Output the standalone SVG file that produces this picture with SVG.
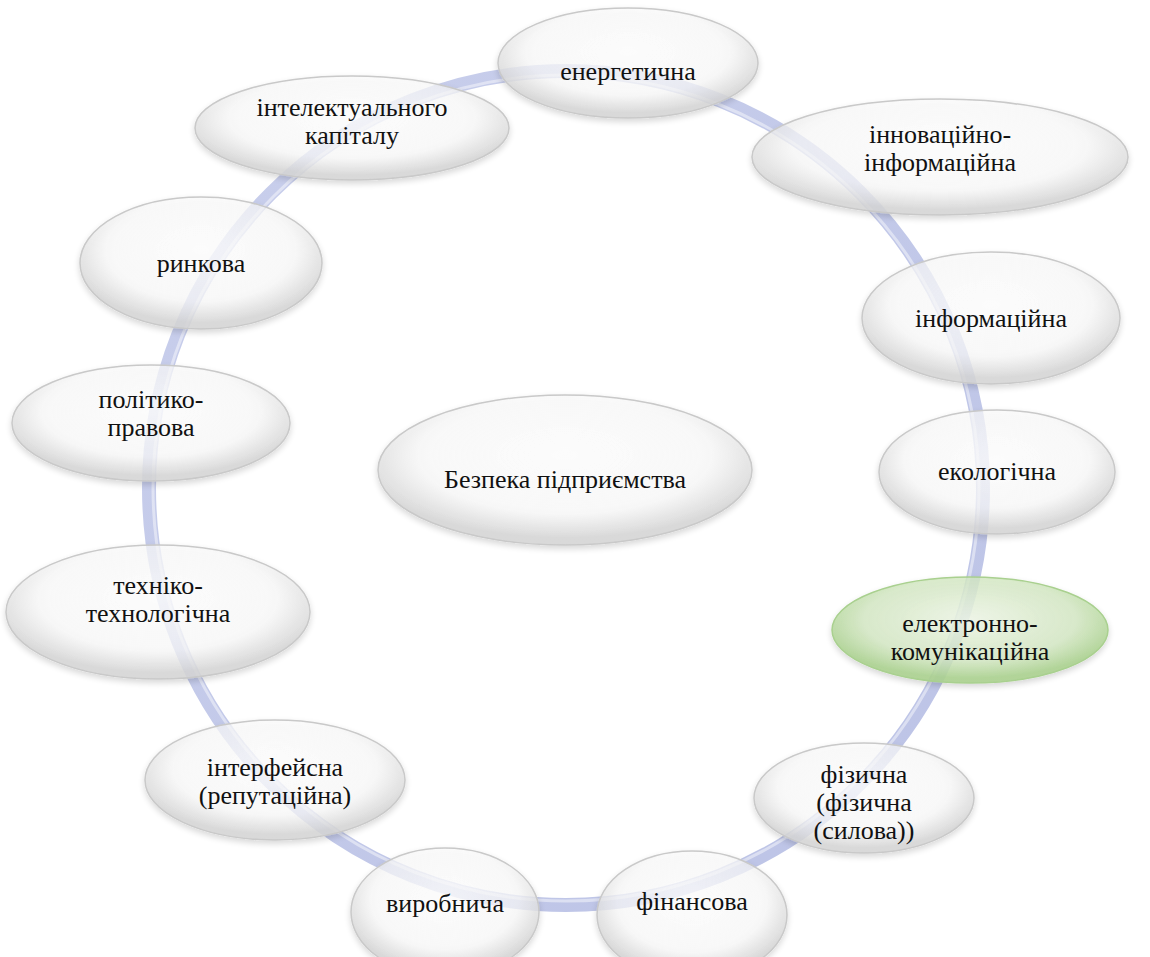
<svg xmlns="http://www.w3.org/2000/svg" width="1150" height="957" viewBox="0 0 1150 957" font-family="Liberation Serif, DejaVu Serif, Times New Roman, serif">
  <defs>
    <radialGradient id="gWhite" cx="50%" cy="40%" r="55%">
      <stop offset="0" stop-color="#ffffff" stop-opacity="0.8"/>
      <stop offset="0.7" stop-color="#fbfbfb" stop-opacity="0.7"/>
      <stop offset="1" stop-color="#d6d6d6" stop-opacity="0.85"/>
    </radialGradient>
    <radialGradient id="gGreen" cx="50%" cy="40%" r="55%">
      <stop offset="0" stop-color="#eef6e6" stop-opacity="0.85"/>
      <stop offset="0.7" stop-color="#d3e8c2" stop-opacity="0.8"/>
      <stop offset="1" stop-color="#acd291" stop-opacity="0.9"/>
    </radialGradient>
    <linearGradient id="gRing" x1="0" y1="0" x2="1" y2="1">
      <stop offset="0" stop-color="#c9cfec"/>
      <stop offset="1" stop-color="#bcc3e6"/>
    </linearGradient>
    <filter id="soft" x="-10%" y="-10%" width="120%" height="130%">
      <feGaussianBlur in="SourceAlpha" stdDeviation="3"/>
      <feOffset dy="3"/>
      <feComponentTransfer><feFuncA type="linear" slope="0.18"/></feComponentTransfer>
      <feMerge><feMergeNode/><feMergeNode in="SourceGraphic"/></feMerge>
    </filter>
  </defs>
  <style>
    .node { fill: url(#gWhite); stroke: #c9c9c9; stroke-width: 1.5; filter: url(#soft); }
    .hl { fill: url(#gGreen); stroke: #a9d08f; stroke-width: 1.5; filter: url(#soft); }
    .t { font-size: 26px; fill: #111; text-anchor: middle; }
  </style>

  <rect width="1150" height="957" fill="#ffffff"/>

  <!-- ring joining the components -->
  <g id="connectors">
    <circle cx="566" cy="488" r="417" fill="none" stroke="url(#gRing)" stroke-width="14"/>
    <circle cx="566" cy="488" r="413" fill="none" stroke="#ffffff" stroke-opacity="0.45" stroke-width="3"/>
  </g>

  <g id="n-energy">
    <ellipse class="node" cx="628" cy="63" rx="130" ry="55"/>
    <text class="t" x="628" y="80">енергетична</text>
  </g>
  <g id="n-intellect">
    <ellipse class="node" cx="352" cy="128" rx="157" ry="52"/>
    <text class="t" x="352" y="116">інтелектуального</text>
    <text class="t" x="352" y="144">капіталу</text>
  </g>
  <g id="n-innov">
    <ellipse class="node" cx="940" cy="157" rx="188" ry="58"/>
    <text class="t" x="940" y="143">інноваційно-</text>
    <text class="t" x="940" y="171">інформаційна</text>
  </g>
  <g id="n-market">
    <ellipse class="node" cx="201" cy="263" rx="121" ry="66"/>
    <text class="t" x="201" y="272">ринкова</text>
  </g>
  <g id="n-info">
    <ellipse class="node" cx="991" cy="318" rx="129" ry="66"/>
    <text class="t" x="991" y="327">інформаційна</text>
  </g>
  <g id="n-political">
    <ellipse class="node" cx="151" cy="423" rx="139" ry="58"/>
    <text class="t" x="151" y="408">політико-</text>
    <text class="t" x="151" y="436">правова</text>
  </g>
  <g id="n-center">
    <ellipse class="node" cx="565" cy="470" rx="187" ry="75"/>
    <text class="t" x="565" y="488">Безпека підприємства</text>
  </g>
  <g id="n-eco">
    <ellipse class="node" cx="997" cy="472" rx="118" ry="62"/>
    <text class="t" x="997" y="480">екологічна</text>
  </g>
  <g id="n-tech">
    <ellipse class="node" cx="158" cy="612" rx="152" ry="67"/>
    <text class="t" x="158" y="594">техніко-</text>
    <text class="t" x="158" y="622">технологічна</text>
  </g>
  <g id="n-electronic">
    <ellipse class="hl" cx="970" cy="630" rx="138" ry="53"/>
    <text class="t" x="970" y="632">електронно-</text>
    <text class="t" x="970" y="660">комунікаційна</text>
  </g>
  <g id="n-interface">
    <ellipse class="node" cx="275" cy="780" rx="130" ry="60"/>
    <text class="t" x="275" y="776">інтерфейсна</text>
    <text class="t" x="275" y="804">(репутаційна)</text>
  </g>
  <g id="n-physical">
    <ellipse class="node" cx="864" cy="798" rx="110" ry="55"/>
    <text class="t" x="864" y="783">фізична</text>
    <text class="t" x="864" y="811">(фізична</text>
    <text class="t" x="864" y="839">(силова))</text>
  </g>
  <g id="n-production">
    <ellipse class="node" cx="445" cy="912" rx="94" ry="64"/>
    <text class="t" x="445" y="912">виробнича</text>
  </g>
  <g id="n-finance">
    <ellipse class="node" cx="692" cy="915" rx="95" ry="64"/>
    <text class="t" x="692" y="910">фінансова</text>
  </g>
</svg>
